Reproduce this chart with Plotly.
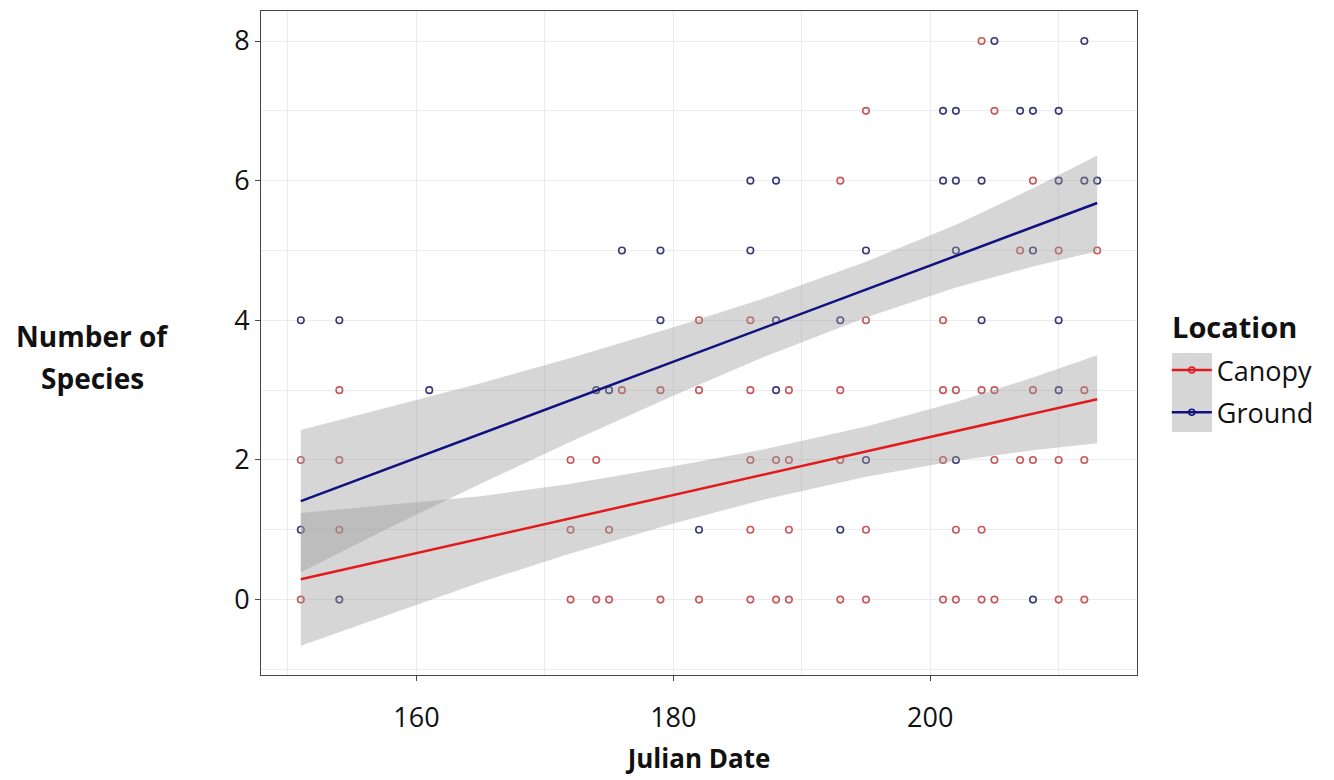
import plotly.graph_objects as go

# ---- observed points (Julian date, number of species) ----
canopy_x = [151, 151, 154, 154, 154, 172, 172, 172, 174, 174, 175, 175, 176, 179, 179,
            182, 182, 182, 186, 186, 186, 186, 186, 188, 188, 189, 189, 189, 189,
            193, 193, 193, 193, 195, 195, 195, 195, 201, 201, 201, 201, 202, 202, 202,
            204, 204, 204, 204, 205, 205, 205, 205, 207, 207, 208, 208, 208,
            210, 210, 210, 212, 212, 212, 213]
canopy_y = [2, 0, 3, 2, 1, 2, 1, 0, 2, 0, 1, 0, 3, 3, 0,
            4, 3, 0, 4, 3, 2, 1, 0, 2, 0, 3, 2, 1, 0,
            6, 3, 2, 0, 7, 4, 1, 0, 4, 3, 2, 0, 3, 1, 0,
            8, 3, 1, 0, 7, 3, 2, 0, 5, 2, 6, 3, 2,
            5, 2, 0, 3, 2, 0, 5]

ground_x = [151, 151, 154, 154, 161, 174, 175, 176, 179, 179, 182, 186, 186,
            188, 188, 188, 193, 193, 195, 195, 201, 201, 202, 202, 202, 202,
            204, 204, 205, 207, 208, 208, 208, 210, 210, 210, 210, 212, 212, 213]
ground_y = [4, 1, 4, 0, 3, 3, 3, 5, 5, 4, 1, 6, 5,
            6, 4, 3, 4, 1, 5, 2, 7, 6, 7, 6, 5, 2,
            6, 4, 8, 7, 7, 5, 0, 7, 6, 4, 3, 8, 6, 6]

# ---- fitted lines (lm) and 95% confidence bands ----
fit_x = [151, 213]
canopy_fit = [0.29, 2.87]
ground_fit = [1.41, 5.68]

band_x = [151, 158, 165, 172, 180, 187, 195, 202, 208, 213]
canopy_lo = [-0.66, -0.20, 0.25, 0.66, 1.09, 1.43, 1.76, 1.99, 2.14, 2.24]
canopy_hi = [1.24, 1.36, 1.48, 1.66, 1.91, 2.15, 2.48, 2.83, 3.18, 3.50]
ground_lo = [0.39, 1.04, 1.66, 2.26, 2.92, 3.47, 4.04, 4.47, 4.77, 4.99]
ground_hi = [2.43, 2.76, 3.10, 3.46, 3.90, 4.31, 4.84, 5.37, 5.89, 6.36]

CANOPY_LINE = "#E31A1C"
GROUND_LINE = "#101080"
CANOPY_PT = "#C45A5C"
GROUND_PT = "#3A3A78"
BAND = "rgba(153,153,153,0.4)"
FONT = "Open Sans"

fig = go.Figure()

# points
fig.add_trace(go.Scatter(x=canopy_x, y=canopy_y, mode="markers", showlegend=False,
                         marker=dict(symbol="circle-open", size=6.5, color=CANOPY_PT,
                                     line=dict(width=1.6, color=CANOPY_PT))))
fig.add_trace(go.Scatter(x=ground_x, y=ground_y, mode="markers", showlegend=False,
                         marker=dict(symbol="circle-open", size=6.5, color=GROUND_PT,
                                     line=dict(width=1.6, color=GROUND_PT))))

# bands
for lo, hi in [(canopy_lo, canopy_hi), (ground_lo, ground_hi)]:
    fig.add_trace(go.Scatter(x=band_x + band_x[::-1], y=hi + lo[::-1], fill="toself",
                             fillcolor=BAND, line=dict(width=0), mode="lines",
                             showlegend=False, hoverinfo="skip"))

# fitted lines
fig.add_trace(go.Scatter(x=fit_x, y=canopy_fit, mode="lines", showlegend=False,
                         line=dict(color=CANOPY_LINE, width=2.5)))
fig.add_trace(go.Scatter(x=fit_x, y=ground_fit, mode="lines", showlegend=False,
                         line=dict(color=GROUND_LINE, width=2.5)))

# legend entries
fig.add_trace(go.Scatter(x=[None], y=[None], mode="lines+markers", name="Canopy",
                         legendgroup="c",
                         line=dict(color=CANOPY_LINE, width=2.5),
                         marker=dict(symbol="circle-open", size=6, color=CANOPY_LINE,
                                     line=dict(width=1.5))))
fig.add_trace(go.Scatter(x=[None], y=[None], mode="lines+markers", name="Ground",
                         legendgroup="g",
                         line=dict(color=GROUND_LINE, width=2.5),
                         marker=dict(symbol="circle-open", size=6, color=GROUND_LINE,
                                     line=dict(width=1.5))))

axis_common = dict(showline=True, mirror=True, linecolor="#444444", linewidth=1,
                   ticks="outside", ticklen=5, tickcolor="#444444",
                   gridcolor="#EBEBEB", gridwidth=1, zeroline=False,
                   tickfont=dict(family=FONT, size=27, color="#111111"))

fig.update_layout(
    width=1334, height=780,
    margin=dict(l=253, r=205, t=3, b=113),
    paper_bgcolor="white", plot_bgcolor="white",
    font=dict(family=FONT, color="#111111"),
    xaxis=dict(range=[147.9, 216.1], tickmode="linear", tick0=160, dtick=20,
               minor=dict(tick0=150, dtick=10, showgrid=True, gridcolor="#EBEBEB",
                          ticks=""),
               ticklabelstandoff=14,
               title=dict(text="<b>Julian Date</b>", font=dict(family=FONT, size=26),
                          standoff=15),
               **axis_common),
    yaxis=dict(range=[-1.08, 8.43], tickmode="linear", tick0=0, dtick=2,
               minor=dict(tick0=0, dtick=1, showgrid=True, gridcolor="#EBEBEB",
                          ticks=""),
               **axis_common),
    legend=dict(x=1.034, xanchor="left", y=0.4955, yanchor="top",
                bgcolor="rgba(0,0,0,0)", tracegroupgap=4,
                font=dict(family=FONT, size=27), itemwidth=40),
    shapes=[dict(type="rect", xref="paper", yref="paper", layer="below",
                 x0=1.040, x1=1.0856, y0=0.366, y1=0.485,
                 fillcolor="#D6D6D6", line=dict(width=0))],
    annotations=[
        dict(text="<b>Number of</b>", xref="paper", yref="paper",
             x=-0.192, y=(675 - 336) / 664, xanchor="center", yanchor="middle",
             showarrow=False, font=dict(family=FONT, size=28, color="#111111")),
        dict(text="<b>Species</b>", xref="paper", yref="paper",
             x=-0.192, y=(675 - 378) / 664, xanchor="center", yanchor="middle",
             showarrow=False, font=dict(family=FONT, size=28, color="#111111")),
        dict(text="<b>Location</b>", xref="paper", yref="paper",
             x=(1170 - 261) / 876, y=(675 - 326) / 664, xanchor="left", yanchor="middle",
             showarrow=False, font=dict(family=FONT, size=29, color="#111111")),
    ],
)

fig.write_html("out.html")
